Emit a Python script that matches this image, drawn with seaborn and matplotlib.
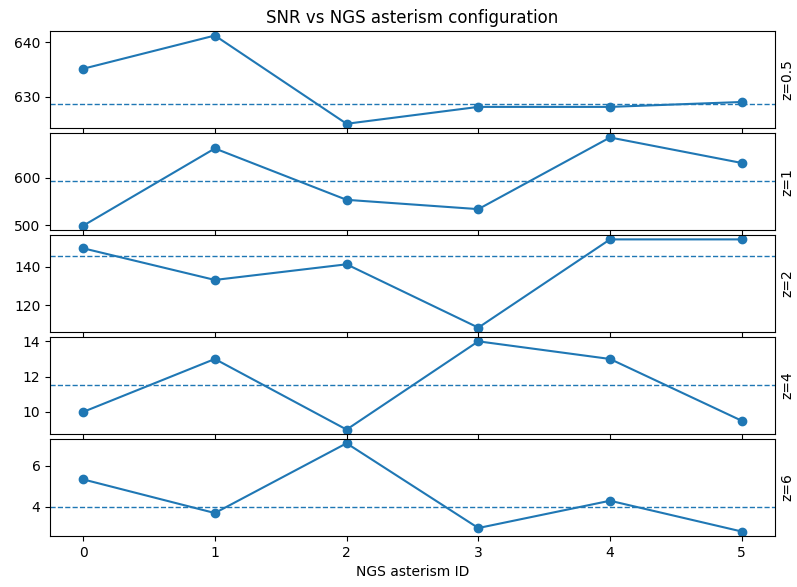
import matplotlib
matplotlib.use("Agg")
import matplotlib.pyplot as plt
import seaborn as sns
import numpy as np
import pandas as pd

# NGS asterism IDs and SNR per redshift
asterism_ids = [0, 1, 2, 3, 4, 5]
redshifts = ["0.5", "1", "2", "4", "6"]
snr_z05 = [635.1, 641.2, 625.0, 628.1, 628.1, 629.0]
snr_z1 = [499.3, 661.0, 553.5, 534.0, 684.0, 630.6]
snr_z2 = [149.5, 133.1, 141.2, 108.4, 154.1, 154.1]
snr_z4 = [10.0, 13.0, 9.0, 14.0, 13.0, 9.5]
snr_z6 = [5.34, 3.7, 7.1, 2.97, 4.3, 2.8]


def main():
    series = [snr_z05, snr_z1, snr_z2, snr_z4, snr_z6]

    fig, axes = plt.subplots(len(series), 1, sharex=True, figsize=(7.97, 5.87), dpi=100)
    fig.subplots_adjust(left=0.063, right=0.972, top=0.947, bottom=0.087, hspace=0.05)

    for ax, z, vals in zip(axes, redshifts, series):
        df = pd.DataFrame({"id": asterism_ids, "snr": vals})
        sns.lineplot(data=df, x="id", y="snr", ax=ax, marker="o", color="C0",
                     markersize=6, markeredgecolor="C0", markeredgewidth=1, linewidth=1.5)
        # median reference line
        ax.axhline(np.median(vals), color="C0", linestyle="--", linewidth=1)
        ax.yaxis.set_label_position("right")
        ax.set_ylabel(f"z={z}")
        ax.set_xlabel("")

    axes[0].set_title("SNR vs NGS asterism configuration")
    axes[-1].set_xlabel("NGS asterism ID")
    axes[-1].set_xticks(asterism_ids)

    plt.savefig("out.png")


if __name__ == "__main__":
    main()
